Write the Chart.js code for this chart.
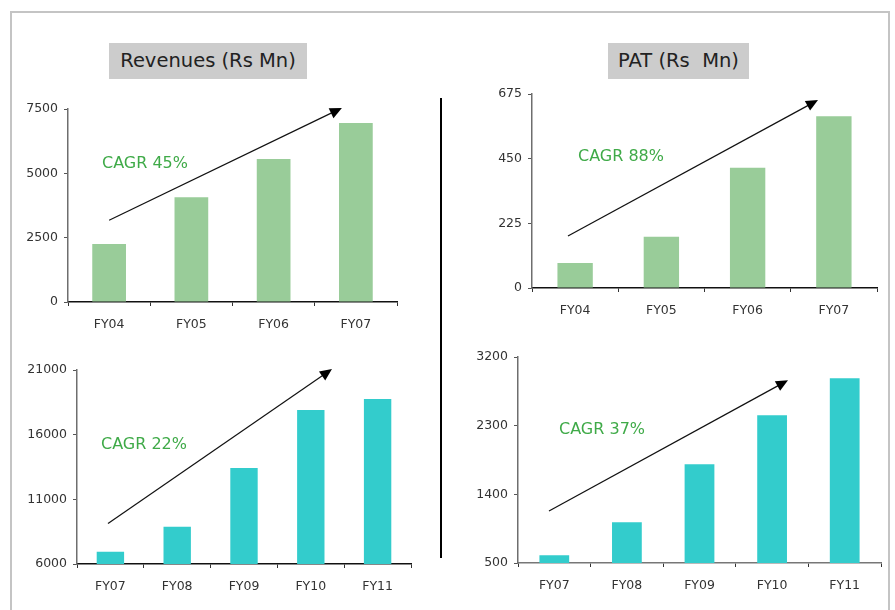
<!DOCTYPE html>
<html>
<head>
<meta charset="utf-8">
<script src="https://cdn.jsdelivr.net/npm/chart.js@4.4.1/dist/chart.umd.min.js"></script>
<style>
  html, body { margin: 0; padding: 0; background: #fff; }
  body { width: 895px; height: 610px; position: relative; overflow: hidden; font-family: "DejaVu Sans", sans-serif; }
  .frame { position: absolute; left: 10px; top: 11px; width: 880px; height: 640px; border: 2px solid #c4c4c4; box-sizing: border-box; }
  .title { position: absolute; top: 43px; height: 36px; background: #cccccc; color: #222; font-size: 19.5px; line-height: 36px; text-align: center; white-space: pre; }
  .divider { position: absolute; left: 440px; top: 98px; width: 2px; height: 460px; background: #000; }
  canvas { position: absolute; }
</style>
</head>
<body>
<div class="frame"></div>
<div class="title" style="left:109px;width:198px;">Revenues (Rs Mn)</div>
<div class="title" style="left:608px;width:141px;">PAT (Rs  Mn)</div>
<div class="divider"></div>
<canvas id="revEarly"></canvas>
<canvas id="patEarly"></canvas>
<canvas id="revLate"></canvas>
<canvas id="patLate"></canvas>
<script>
// Fiscal years
const yearsEarly = ['FY04', 'FY05', 'FY06', 'FY07'];
const yearsLate = ['FY07', 'FY08', 'FY09', 'FY10', 'FY11'];

// Revenues (Rs Mn)
const revenueEarly = [2250, 4075, 5555, 6955];
const revenueLate = [6950, 8880, 13430, 17900, 18760];

// Profit after tax (Rs Mn)
const patEarly = [87, 178, 418, 598];
const patLate = [600, 1033, 1793, 2436, 2921];

// Growth labels
const cagrRevEarly = 'CAGR 45%';
const cagrPatEarly = 'CAGR 88%';
const cagrRevLate = 'CAGR 22%';
const cagrPatLate = 'CAGR 37%';

// Draws the growth arrow and its CAGR caption in data units
const trendNote = {
  id: 'trendNote',
  afterDatasetsDraw(chart, args, opts) {
    const x = chart.scales.x, y = chart.scales.y, ctx = chart.ctx;
    const x0 = x.getPixelForValue(opts.from[0]), y0 = y.getPixelForValue(opts.from[1]);
    const x1 = x.getPixelForValue(opts.to[0]), y1 = y.getPixelForValue(opts.to[1]);
    const ang = Math.atan2(y1 - y0, x1 - x0);
    const head = 12, half = 5.5;
    ctx.save();
    ctx.strokeStyle = '#111';
    ctx.fillStyle = '#000';
    ctx.lineWidth = 1.2;
    ctx.beginPath();
    ctx.moveTo(x0, y0);
    ctx.lineTo(x1 - Math.cos(ang) * head * 0.8, y1 - Math.sin(ang) * head * 0.8);
    ctx.stroke();
    ctx.beginPath();
    ctx.moveTo(x1, y1);
    ctx.lineTo(x1 - Math.cos(ang) * head + Math.sin(ang) * half, y1 - Math.sin(ang) * head - Math.cos(ang) * half);
    ctx.lineTo(x1 - Math.cos(ang) * head - Math.sin(ang) * half, y1 - Math.sin(ang) * head + Math.cos(ang) * half);
    ctx.closePath();
    ctx.fill();
    ctx.fillStyle = '#3faa48';
    ctx.font = '16px "DejaVu Sans", sans-serif';
    ctx.textAlign = 'left';
    ctx.textBaseline = 'middle';
    ctx.fillText(opts.label, x.getPixelForValue(opts.at[0]), y.getPixelForValue(opts.at[1]));
    ctx.restore();
  }
};

const PAD_L = 60, PAD_T = 25, PAD_R = 15, PAD_B = 40;

function makeChart(id, area, labels, values, color, yMin, yMax, yStep, note, xAxisColor) {
  const cv = document.getElementById(id);
  const w = area.r - area.l + PAD_L + PAD_R;
  const h = area.b - area.t + PAD_T + PAD_B;
  cv.style.left = (area.l - PAD_L) + 'px';
  cv.style.top = (area.t - PAD_T) + 'px';
  cv.width = w; cv.height = h;
  cv.style.width = w + 'px'; cv.style.height = h + 'px';
  return new Chart(cv, {
    type: 'bar',
    data: {
      labels: labels,
      datasets: [{ data: values, backgroundColor: color, borderWidth: 0, categoryPercentage: 1, barPercentage: 0.41 }]
    },
    options: {
      responsive: false,
      animation: false,
      layout: { padding: { top: PAD_T, right: PAD_R, left: 0, bottom: 0 } },
      plugins: { legend: { display: false }, tooltip: { enabled: false }, trendNote: note },
      scales: {
        x: {
          afterFit(s) { s.height = PAD_B; },
          grid: { offset: true, drawOnChartArea: false, drawTicks: true, tickLength: 4, color: '#333', lineWidth: 1 },
          border: { color: xAxisColor, width: 1.5 },
          ticks: { color: '#333', font: { family: 'DejaVu Sans', size: 12.5 }, padding: 11, maxRotation: 0 }
        },
        y: {
          min: yMin, max: yMax,
          afterFit(s) { s.width = PAD_L; },
          afterBuildTicks(s) {
            const t = [];
            for (let v = yMin; v <= yMax + 1e-9; v += yStep) t.push({ value: v });
            s.ticks = t;
          },
          grid: { drawOnChartArea: false, drawTicks: true, tickLength: 4, color: '#555', lineWidth: 1 },
          border: { color: '#6e6e6e', width: 1.5 },
          ticks: { color: '#333', font: { family: 'DejaVu Sans', size: 12.5 }, padding: 6, callback: v => String(v) }
        }
      }
    },
    plugins: [trendNote]
  });
}

makeChart('revEarly', { l: 68, t: 109, r: 397, b: 302 }, yearsEarly, revenueEarly, '#99cc99', 0, 7500, 2500,
  { from: [0, 3180], to: [2.83, 7540], label: cagrRevEarly, at: [-0.087, 5360] }, '#111');
makeChart('patEarly', { l: 532, t: 94, r: 877, b: 288 }, yearsEarly, patEarly, '#99cc99', 0, 675, 225,
  { from: [-0.083, 181], to: [2.816, 654], label: cagrPatEarly, at: [0.033, 456] }, '#111');
makeChart('revLate', { l: 77, t: 370, r: 411, b: 564 }, yearsLate, revenueLate, '#33cccc', 6000, 21000, 5000,
  { from: [-0.036, 9130], to: [3.317, 21070], label: cagrRevLate, at: [-0.141, 15210] }, '#111');
makeChart('patLate', { l: 518, t: 357, r: 881, b: 563 }, yearsLate, patLate, '#33cccc', 500, 3200, 900,
  { from: [-0.073, 1182], to: [3.219, 2895], label: cagrPatLate, at: [0.065, 2239] }, '#777');
</script>
</body>
</html>
